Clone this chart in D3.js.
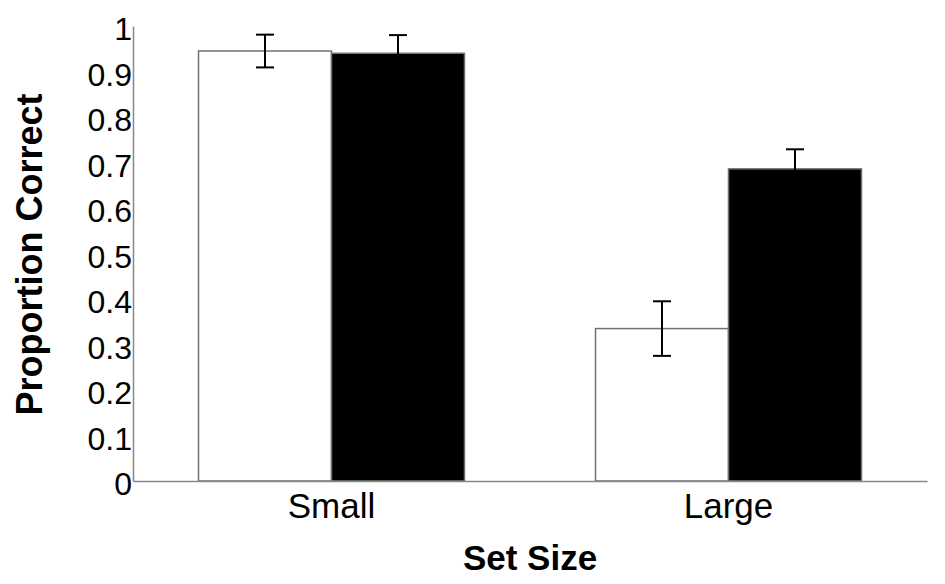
<!DOCTYPE html>
<html>
<head>
<meta charset="utf-8">
<script src="https://cdn.jsdelivr.net/npm/d3@7"></script>
<style>
  body { margin: 0; background: #fff; }
  svg { display: block; }
</style>
</head>
<body>
<div id="chart"></div>
<script>
const categories = ['Small', 'Large'];
const series = ['white', 'black'];
const whiteValues = [0.945, 0.335];
const whiteErrors = [0.036, 0.06];
const blackValues = [0.94, 0.686];
const blackErrors = [0.04, 0.043];
const yTicks = [0, 0.1, 0.2, 0.3, 0.4, 0.5, 0.6, 0.7, 0.8, 0.9, 1];

const width = 945;
const height = 584;
const margin = {top: 26, right: 18, bottom: 103, left: 133};

const data = categories.map((c, i) => ({
    cat: c,
    bars: [
        {key: 'white', value: whiteValues[i], err: whiteErrors[i]},
        {key: 'black', value: blackValues[i], err: blackErrors[i]}
    ]
}));

const svg = d3.select('#chart')
.append('svg')
.attr('width', width)
.attr('height', height);

const scaleX = d3.scaleBand()
.domain(categories)
.range([margin.left, width - margin.right])
.paddingInner(0.33)
.paddingOuter(0.165);

const scaleSub = d3.scaleBand()
.domain(series)
.range([0, scaleX.bandwidth()]);

const scaleY = d3.scaleLinear()
.domain([0, 1])
.range([height - margin.bottom, margin.top]);

const fill = {white: '#fff', black: '#000'};

const group = svg.selectAll('g.cat')
.data(data)
.enter()
.append('g')
.attr('class', 'cat')
.attr('transform', d => `translate(${scaleX(d.cat)}, 0)`);

group.selectAll('rect')
.data(d => d.bars)
.enter()
.append('rect')
.attr('x', d => scaleSub(d.key))
.attr('y', d => scaleY(d.value))
.attr('width', scaleSub.bandwidth())
.attr('height', d => scaleY(0) - scaleY(d.value))
.attr('fill', d => fill[d.key])
.attr('stroke', '#707070')
.attr('stroke-width', 1.5);

// error bars
const err = group.selectAll('g.err')
.data(d => d.bars)
.enter()
.append('g')
.attr('class', 'err')
.attr('transform', d => `translate(${scaleSub(d.key) + scaleSub.bandwidth() / 2}, 0)`)
.attr('stroke', '#000')
.attr('stroke-width', 2);

err.append('line')
.attr('x1', 0).attr('x2', 0)
.attr('y1', d => scaleY(d.value + d.err))
.attr('y2', d => scaleY(d.value - d.err));

err.append('line')
.attr('x1', -9).attr('x2', 9)
.attr('y1', d => scaleY(d.value + d.err))
.attr('y2', d => scaleY(d.value + d.err));

err.append('line')
.attr('x1', -9).attr('x2', 9)
.attr('y1', d => scaleY(d.value - d.err))
.attr('y2', d => scaleY(d.value - d.err));

// axes
const yAxis = d3.axisLeft(scaleY)
.tickValues(yTicks)
.tickFormat(d3.format('~g'))
.tickSize(0)
.tickPadding(1);

const groupAxisY = svg.append('g')
.attr('transform', `translate(${margin.left}, 0)`)
.call(yAxis);

groupAxisY.select('.domain').attr('stroke', '#888').attr('stroke-width', 1.5);
groupAxisY.selectAll('text')
.attr('font-family', 'Liberation Sans, Arial, sans-serif')
.attr('font-size', 32)
.attr('fill', '#000')
.attr('dy', '0.43em');

const xAxis = d3.axisBottom(scaleX).tickSize(0).tickPadding(0);

const groupAxisX = svg.append('g')
.attr('transform', `translate(0, ${height - margin.bottom})`)
.call(xAxis);

groupAxisX.select('.domain').attr('stroke', '#888').attr('stroke-width', 1.5);
groupAxisX.selectAll('text')
.attr('font-family', 'Liberation Sans, Arial, sans-serif')
.attr('font-size', 35)
.attr('fill', '#000')
.attr('y', 37)
.attr('dy', 0);

// titles
svg.append('text')
.attr('x', (margin.left + width - margin.right) / 2)
.attr('y', 570)
.attr('text-anchor', 'middle')
.attr('font-family', 'Liberation Sans, Arial, sans-serif')
.attr('font-weight', 'bold')
.attr('font-size', 35)
.text('Set Size');

svg.append('text')
.attr('transform', 'translate(42, 254.5) rotate(-90)')
.attr('text-anchor', 'middle')
.attr('font-family', 'Liberation Sans, Arial, sans-serif')
.attr('font-weight', 'bold')
.attr('font-size', 36)
.text('Proportion Correct');
</script>
</body>
</html>
